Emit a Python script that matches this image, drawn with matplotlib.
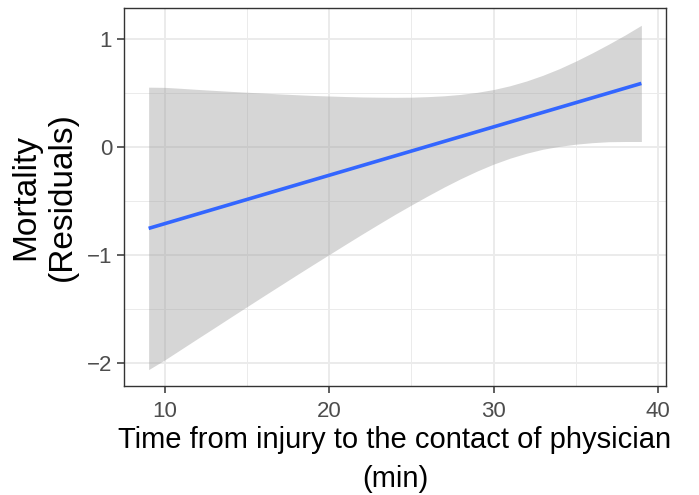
import matplotlib
matplotlib.use("Agg")
import matplotlib.pyplot as plt
from matplotlib.ticker import MultipleLocator

plt.rcParams['font.family'] = ['Liberation Sans', 'DejaVu Sans']

# fitted line (linear model) and its 95% band
fit_x = [9, 39]
fit_y = [-0.754, 0.591]

band_x = list(range(9, 40))
band_upper = [0.556, 0.554, 0.545, 0.535, 0.526, 0.517, 0.509, 0.501,
              0.493, 0.486, 0.479, 0.474, 0.469, 0.465, 0.463, 0.462,
              0.463, 0.468, 0.476, 0.489, 0.508, 0.534, 0.569, 0.613,
              0.666, 0.727, 0.797, 0.873, 0.954, 1.039, 1.130]
band_lower = [-2.064, -1.972, -1.873, -1.774, -1.676, -1.577, -1.479, -1.381,
              -1.284, -1.187, -1.091, -0.996, -0.901, -0.807, -0.715, -0.624,
              -0.537, -0.452, -0.370, -0.293, -0.222, -0.158, -0.103, -0.057,
              -0.020, 0.007, 0.027, 0.041, 0.050, 0.052, 0.052]

x_ticks = [10, 20, 30, 40]
y_ticks = [-2, -1, 0, 1]

fig = plt.figure(figsize=(6.99, 4.95), dpi=100, facecolor='w')
ax = fig.add_axes([124/699, 1 - 386/495, (666 - 124)/699, (386 - 7.5)/495])

ax.fill_between(band_x, band_lower, band_upper, color='#999999', alpha=0.4,
                linewidth=0, zorder=2)
ax.plot(fit_x, fit_y, color='#3366FF', lw=2.6, solid_capstyle='butt', zorder=3)

ax.set_xlim(7.5, 40.5)
ax.set_ylim(-2.216, 1.295)
ax.set_xticks(x_ticks)
ax.set_yticks(y_ticks)
ax.xaxis.set_minor_locator(MultipleLocator(5))
ax.yaxis.set_minor_locator(MultipleLocator(0.5))

ax.grid(which='major', color='#EBEBEB', lw=1.4, zorder=0)
ax.grid(which='minor', color='#EBEBEB', lw=0.7, zorder=0)
ax.set_axisbelow(True)

for s in ax.spines.values():
    s.set_color('#333333')
    s.set_linewidth(1.0)

ax.tick_params(which='major', length=5.0, width=1.1, color='#333333',
               labelcolor='#4D4D4D', labelsize=16, pad=3.5)
ax.tick_params(axis='x', which='major', pad=6)
ax.tick_params(which='minor', length=0)

ax.set_xlabel('Time from injury to the contact of physician\n(min)',
              fontsize=21, color='black', linespacing=1.5, labelpad=3)
ax.set_ylabel('Mortality\n(Residuals)', fontsize=24, color='black',
              linespacing=1.25, labelpad=6)

fig.savefig('out.png', dpi=100)
